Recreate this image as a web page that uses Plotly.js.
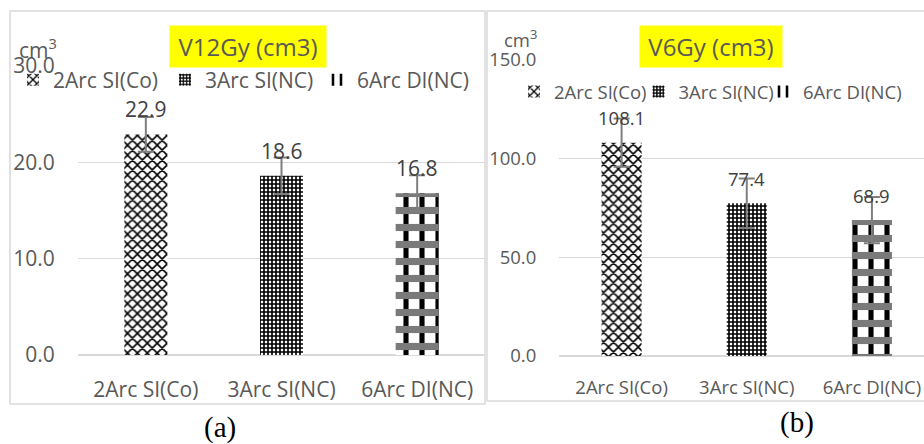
<!DOCTYPE html>
<html>
<head>
<meta charset="utf-8">
<script src="https://cdn.plot.ly/plotly-3.0.1.min.js"></script>
<style>
  html, body { margin: 0; padding: 0; background: #ffffff; overflow: hidden; }
  #chart { width: 924px; height: 444px; }
</style>
</head>
<body>
<div id="chart"></div>
<script>
// Plan types compared in both panels
const plans = ['2Arc SI(Co)', '3Arc SI(NC)', '6Arc DI(NC)'];

// Panel (a): V12Gy volume, cm3
const v12Mean = [22.9, 18.6, 16.8];
const v12Err  = [1.8, 1.9, 1.85];
const v12Ticks = [0, 10, 20, 30];

// Panel (b): V6Gy volume, cm3
const v6Mean = [108.1, 77.4, 68.9];
const v6Err  = [12.2, 12.5, 11.7];
const v6Ticks = [0, 50, 100, 150];

const W = 924, H = 444;
const px = x => x / W;
const py = y => 1 - y / H;

const GRID = '#d9d9d9';
const TXT = '#595959';
const LBL = '#404040';
const FONT = 'Open Sans, Noto Sans, sans-serif';
const SERIF = 'Liberation Serif, Times New Roman, serif';

// fill patterns per plan
function patternFor(i) {
  if (i === 0) return {shape: 'x', fgcolor: '#000', bgcolor: '#fff', size: 7, solidity: 0.4, fillmode: 'replace'};
  if (i === 1) return {shape: '+', fgcolor: '#000', bgcolor: '#fff', size: 4, solidity: 0.65, fillmode: 'replace'};
  return {shape: '|', fgcolor: '#000', bgcolor: '#fff', size: 16, solidity: 0.32, fillmode: 'replace'};
}

function panelTraces(means, errs, xa, ya, leg, bw, lastWidth) {
  const out = [];
  plans.forEach((p, i) => {
    const t = {
      type: 'bar', name: p, x: [p], y: [means[i]], xaxis: xa, yaxis: ya, legend: leg,
      width: bw,
      marker: {color: '#fff', line: {width: 0}, pattern: patternFor(i)},
      error_y: i === 2 ? {visible: false} : {type: 'data', array: [errs[i]], color: '#7f7f7f', thickness: 2, width: 8},
      hoverinfo: 'skip'
    };
    if (i === 2) t.legendwidth = lastWidth;
    out.push(t);
  });
  // horizontal checkered bands of the third plan's plaid fill
  out.push({
    type: 'bar', name: plans[2], x: [plans[2]], y: [means[2]], xaxis: xa, yaxis: ya, legend: leg,
    width: bw, showlegend: false,
    marker: {color: 'rgba(0,0,0,0)', line: {width: 0},
             pattern: {shape: '-', fgcolor: '#7a7a7a', bgcolor: 'rgba(0,0,0,0)', size: 17, solidity: 0.42, fillmode: 'replace'}},
    error_y: {type: 'data', array: [errs[2]], color: '#7f7f7f', thickness: 2, width: 8},
    hoverinfo: 'skip'
  });
  return out;
}

const data = [
  ...panelTraces(v12Mean, v12Err, 'x', 'y', 'legend', 0.317, 112),
  ...panelTraces(v6Mean, v6Err, 'x2', 'y2', 'legend2', 0.32, 102)
];

function valueLabels(means, xa, ya, size) {
  return means.map((v, i) => ({
    x: plans[i], y: v, xref: xa, yref: ya, text: v.toFixed(1), showarrow: false,
    xanchor: 'center', yanchor: 'middle', yshift: 25, font: {family: FONT, size: size, color: LBL}
  }));
}

function note(x, y, text, font, extra) {
  return Object.assign({x: px(x), y: py(y), xref: 'paper', yref: 'paper', text: text, showarrow: false,
    xanchor: 'center', yanchor: 'middle', font: font}, extra || {});
}

const annotations = [
  // yellow-highlighted titles
  note(248, 46.5, 'V12Gy (cm3)', {family: FONT, size: 24, color: TXT},
       {bgcolor: '#ffff00', width: 150, height: 35, borderpad: 3}),
  note(711, 46.5, 'V6Gy (cm3)', {family: FONT, size: 24, color: TXT},
       {bgcolor: '#ffff00', width: 136, height: 35, borderpad: 3}),
  // unit labels
  note(38, 48, 'cm<sup>3</sup>', {family: FONT, size: 21, color: TXT}),
  note(520, 38, 'cm<sup>3</sup>', {family: FONT, size: 18.5, color: TXT}),
  // panel letters
  note(220, 427, '(a)', {family: SERIF, size: 29, color: '#000'}),
  note(797, 422, '(b)', {family: SERIF, size: 29, color: '#000'}),
  ...valueLabels(v12Mean, 'x', 'y', 21),
  ...valueLabels(v6Mean, 'x2', 'y2', 18.5)
];

const shapes = [
  // chart-area frames
  {type: 'rect', xref: 'paper', yref: 'paper', x0: px(10), x1: px(485), y0: py(404), y1: py(11),
   line: {color: GRID, width: 1.5}, layer: 'below'},
  {type: 'rect', xref: 'paper', yref: 'paper', x0: px(487), x1: px(940), y0: py(401), y1: py(11),
   line: {color: GRID, width: 1.5}, fillcolor: '#fff', layer: 'below'}
];

function yAxis(domain, ticks, size, anchor) {
  return {
    anchor: anchor, domain: domain, range: [ticks[0], ticks[ticks.length - 1]], tickvals: ticks, tickformat: '.1f',
    showgrid: true, gridcolor: GRID, gridwidth: 1.5, zeroline: true, zerolinecolor: GRID, zerolinewidth: 1.5,
    showline: false, ticks: 'outside', ticklen: 18, tickcolor: 'rgba(0,0,0,0)',
    tickfont: {family: FONT, size: size, color: TXT}, fixedrange: true
  };
}
function xAxis(domain, range, size, tl, anchor) {
  return {
    anchor: anchor, domain: domain, type: 'category', categoryarray: plans, range: range,
    showgrid: false, zeroline: false, showline: false,
    ticks: 'outside', ticklen: tl, tickcolor: 'rgba(0,0,0,0)',
    tickfont: {family: FONT, size: size, color: TXT}, fixedrange: true
  };
}

const layout = {
  width: W, height: H, margin: {l: 0, r: 0, t: 0, b: 0},
  paper_bgcolor: '#fff', plot_bgcolor: 'rgba(0,0,0,0)',
  barmode: 'overlay', showlegend: true,
  xaxis: xAxis([px(78), px(485)], [-0.5, 2.5], 21, 16, 'y'),
  yaxis: yAxis([py(355), py(66)], v12Ticks, 21, 'x'),
  xaxis2: xAxis([px(559), 1], [-0.5, 2.416], 18.5, 15, 'y2'),
  yaxis2: yAxis([py(356), py(60)], v6Ticks, 18.5, 'x2'),
  legend: {orientation: 'h', x: px(13), xanchor: 'left', y: py(80), yanchor: 'middle',
           entrywidth: 107, bgcolor: 'rgba(0,0,0,0)', font: {family: FONT, size: 21, color: TXT}},
  legend2: {orientation: 'h', x: px(514), xanchor: 'left', y: py(92), yanchor: 'middle',
           entrywidth: 79.5, bgcolor: 'rgba(0,0,0,0)', font: {family: FONT, size: 18.5, color: TXT}},
  annotations: annotations,
  shapes: shapes
};

Plotly.newPlot('chart', data, layout, {staticPlot: true, displayModeBar: false});
</script>
</body>
</html>
